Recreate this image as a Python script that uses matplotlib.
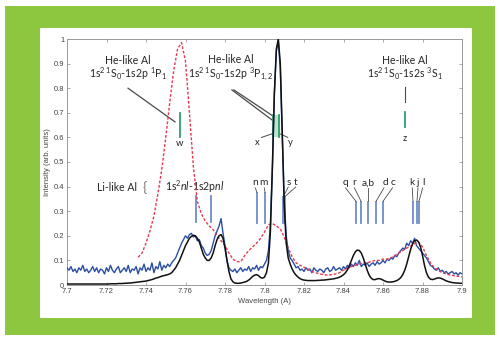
import numpy as np
import matplotlib
matplotlib.use("Agg")
import matplotlib.pyplot as plt
from matplotlib.patches import Rectangle

plt.rcParams['font.family'] = ['Lato', 'DejaVu Sans']
plt.rcParams['mathtext.fontset'] = 'custom'
plt.rcParams['mathtext.rm'] = 'Lato'
plt.rcParams['mathtext.it'] = 'Lato:italic'
plt.rcParams['mathtext.default'] = 'regular'

# ---------------- data ----------------
wl_start, wl_step = 7.700, 0.001
experiment = [
    0.07, 0.06, 0.075, 0.055, 0.065, 0.05, 0.07, 0.06, 0.08, 0.055,
    0.065, 0.05, 0.06, 0.075, 0.055, 0.07, 0.05, 0.065, 0.06, 0.045,
    0.07, 0.055, 0.08, 0.06, 0.05, 0.065, 0.075, 0.05, 0.06, 0.07,
    0.055, 0.08, 0.05, 0.065, 0.06, 0.075, 0.045, 0.07, 0.06, 0.085,
    0.055, 0.07, 0.06, 0.09, 0.05, 0.075, 0.065, 0.095, 0.06, 0.08,
    0.07, 0.085, 0.075, 0.09, 0.1, 0.11, 0.13, 0.15, 0.17, 0.185,
    0.2, 0.19, 0.205, 0.21, 0.195, 0.2, 0.18, 0.185, 0.16, 0.15,
    0.13, 0.12, 0.125, 0.14, 0.17, 0.2, 0.22, 0.24, 0.27, 0.21,
    0.16, 0.1, 0.07, 0.06, 0.055, 0.065, 0.05, 0.06, 0.07, 0.055,
    0.065, 0.06, 0.075, 0.055, 0.07, 0.065, 0.08, 0.06, 0.075, 0.07,
    0.085, 0.1, 0.14, 0.25, 0.48, 0.78, 0.95, 0.99, 0.88, 0.6,
    0.34, 0.2, 0.14, 0.11, 0.1, 0.085, 0.07, 0.075, 0.06, 0.065,
    0.055, 0.07, 0.06, 0.065, 0.05, 0.07, 0.06, 0.055, 0.065, 0.06,
    0.05, 0.065, 0.07, 0.055, 0.06, 0.075, 0.06, 0.065, 0.07, 0.06,
    0.075, 0.065, 0.08, 0.07, 0.085, 0.075, 0.09, 0.08, 0.1, 0.075,
    0.085, 0.08, 0.09, 0.075, 0.085, 0.09, 0.08, 0.095, 0.085, 0.09,
    0.1, 0.09, 0.105, 0.1, 0.11, 0.105, 0.12, 0.115, 0.13, 0.14,
    0.15, 0.145, 0.17, 0.16, 0.18, 0.17, 0.19, 0.16, 0.15, 0.14,
    0.13, 0.12, 0.11, 0.095, 0.08, 0.075, 0.065, 0.06, 0.07, 0.055,
    0.06, 0.05, 0.055, 0.045, 0.05, 0.055, 0.045, 0.05, 0.04, 0.05, 0.045,
]
simulation = [
    0.004, 0.004, 0.004, 0.004, 0.004, 0.004, 0.004, 0.004, 0.004, 0.004,
    0.004, 0.004, 0.004, 0.004, 0.004, 0.004, 0.004, 0.004, 0.004, 0.004,
    0.004, 0.004, 0.005, 0.005, 0.005, 0.005, 0.006, 0.006, 0.006, 0.007,
    0.007, 0.008, 0.008, 0.009, 0.01, 0.011, 0.012, 0.013, 0.014, 0.015,
    0.016, 0.018, 0.02, 0.022, 0.025, 0.028, 0.03, 0.033, 0.036, 0.038,
    0.04, 0.042, 0.045, 0.05, 0.06, 0.07, 0.085, 0.1, 0.12, 0.14,
    0.16, 0.175, 0.19, 0.198, 0.202, 0.2, 0.19, 0.175, 0.15, 0.125,
    0.11, 0.1, 0.1, 0.11, 0.13, 0.16, 0.185, 0.2, 0.205, 0.19,
    0.15, 0.1, 0.055, 0.025, 0.013, 0.008, 0.007, 0.007, 0.008, 0.01,
    0.012, 0.015, 0.02, 0.027, 0.035, 0.04, 0.042, 0.038, 0.03, 0.028,
    0.032, 0.05, 0.09, 0.22, 0.48, 0.78, 0.96, 1.0, 0.9, 0.62,
    0.32, 0.17, 0.11, 0.085, 0.065, 0.05, 0.04, 0.032, 0.026, 0.022,
    0.02, 0.019, 0.018, 0.018, 0.018, 0.018, 0.018, 0.019, 0.019, 0.02,
    0.02, 0.021, 0.022, 0.023, 0.024, 0.025, 0.027, 0.029, 0.032, 0.036,
    0.042, 0.05, 0.062, 0.08, 0.1, 0.12, 0.135, 0.142, 0.14, 0.13,
    0.11, 0.085, 0.06, 0.04, 0.028, 0.022, 0.022, 0.025, 0.026, 0.024,
    0.02, 0.016, 0.013, 0.012, 0.012, 0.013, 0.015, 0.018, 0.023, 0.03,
    0.042, 0.06, 0.085, 0.115, 0.145, 0.168, 0.18, 0.183, 0.175, 0.155,
    0.12, 0.08, 0.05, 0.032, 0.024, 0.022, 0.024, 0.027, 0.029, 0.028,
    0.025, 0.021, 0.017, 0.014, 0.012, 0.01, 0.009, 0.008, 0.008, 0.007, 0.007,
]
red_start, red_step = 7.736, 0.002
model2 = [
    0.113, 0.13, 0.17, 0.22, 0.28, 0.37, 0.47, 0.6, 0.74, 0.87, 0.96, 0.985,
    0.91, 0.7, 0.48, 0.34, 0.29, 0.26, 0.24, 0.225, 0.2, 0.18,
    0.16, 0.13, 0.105, 0.095, 0.095, 0.12, 0.14, 0.155, 0.17, 0.19,
    0.215, 0.245, 0.25, 0.24, 0.228, 0.195, 0.15, 0.115, 0.09, 0.08,
    0.072, 0.065, 0.055, 0.05, 0.045, 0.042, 0.04, 0.042, 0.045, 0.05,
    0.06, 0.068, 0.075, 0.08, 0.085, 0.09, 0.09, 0.095, 0.1, 0.1,
    0.105, 0.105, 0.11, 0.12, 0.13, 0.14, 0.15, 0.158, 0.168, 0.175,
    0.155, 0.12, 0.09, 0.07, 0.06, 0.05, 0.045, 0.04, 0.038, 0.035,
    0.033,
]

he_lines = [7.7572, 7.8043, 7.8073, 7.8711]          # w, x, y, z
li_main = [7.7653, 7.7729]
nm_lines = [7.7962, 7.8003]
st_lines = [7.8094, 7.8102]
qrabdc_lines = [7.8463, 7.8489, 7.8524, 7.8565, 7.8600]
kjl_lines = [7.8752, 7.8772, 7.8782]

xticks = [7.7, 7.72, 7.74, 7.76, 7.78, 7.8, 7.82, 7.84, 7.86, 7.88, 7.9]
yticks = [0, 0.1, 0.2, 0.3, 0.4, 0.5, 0.6, 0.7, 0.8, 0.9, 1]

# ---------------- figure ----------------
W, H = 499, 340
fig = plt.figure(figsize=(W / 100, H / 100), dpi=100)
fig.patch.set_facecolor('white')

def px_rect(x0, y0, x1, y1, color, z):
    fig.patches.append(Rectangle((x0 / W, 1 - y1 / H), (x1 - x0) / W, (y1 - y0) / H,
                                 transform=fig.transFigure, facecolor=color,
                                 edgecolor='none', zorder=z))

px_rect(5, 6, 495, 335, '#8dc63f', -3)
px_rect(40, 28, 472, 318, 'white', -2)

ax = fig.add_axes([67 / W, 1 - 285 / H, 395 / W, 246 / H])
ax.set_facecolor('white')

xe = wl_start + wl_step * np.arange(len(experiment))
xs = wl_start + wl_step * np.arange(len(simulation))
xr = red_start + red_step * np.arange(len(model2))

ax.plot(xe, experiment, color='#2a4fa5', lw=1.0, zorder=3)
ax.plot(xr, model2, color='#e8384f', lw=1.0, ls=(0, (2, 1.3)), zorder=4)
ax.plot(xs, simulation, color='#111111', lw=1.1, zorder=5)

ax.set_xlim(7.7, 7.9)
ax.set_ylim(0, 1)
ax.set_xticks(xticks)
ax.set_yticks(yticks)
ax.set_xticklabels(['%g' % t for t in xticks])
ax.set_yticklabels(['%g' % t for t in yticks])
ax.tick_params(direction='in', length=2.5, width=0.5, labelsize=5.5,
               colors='#888888', labelcolor='#444444', top=True, right=True, pad=2)
for s in ax.spines.values():
    s.set_color('#999999')
    s.set_linewidth(0.7)
ax.set_xlabel('Wavelength (A)', fontsize=5.5, color='#444444', labelpad=2,
              family=['Liberation Sans', 'DejaVu Sans'])
ax.set_ylabel('Intensity (arb. units)', fontsize=5.5, color='#444444', labelpad=2,
              family=['Liberation Sans', 'DejaVu Sans'])
for lab in ax.get_xticklabels() + ax.get_yticklabels():
    lab.set_family(['Liberation Sans', 'DejaVu Sans'])

tc = '#262626'
lc = '#4a4a4a'
gc = '#2e9e6e'
bc = '#6d8cc9'
fs = 7.6

# He-like w
ax.text(7.7309, 0.880, 'He-like Al\n1s$^{2\\ 1}$S$_0$-1s2p $^1$P$_1$', ha='center', va='center',
        fontsize=fs, color=tc, linespacing=1.0)
ax.plot([7.7309, 7.7547], [0.80, 0.663], color=lc, lw=0.9)
ax.plot([he_lines[0]] * 2, [0.60, 0.70], color=gc, lw=1.3)
ax.text(he_lines[0], 0.575, 'w', ha='center', va='center', fontsize=6.8, color=tc)

# He-like x, y
ax.text(7.7828, 0.880, 'He-like Al\n1s$^{2\\ 1}$S$_0$-1s2p $^3$P$_{1,2}$', ha='center', va='center',
        fontsize=fs, color=tc, linespacing=1.0)
ax.plot([7.7835, 7.8038], [0.793, 0.671], color=lc, lw=0.9)
ax.plot([7.7845, 7.8043], [0.793, 0.687], color=lc, lw=0.9)
ax.add_patch(Rectangle((he_lines[1] - 0.0004, 0.60), he_lines[2] - he_lines[1] + 0.0008, 0.09,
                       facecolor='#8fd3b0', edgecolor='none', alpha=0.6, zorder=2))
ax.plot([he_lines[1]] * 2, [0.60, 0.69], color=gc, lw=1.3, zorder=2.5)
ax.plot([he_lines[2]] * 2, [0.60, 0.69], color=gc, lw=1.3, zorder=2.5)
ax.text(7.7962, 0.578, 'x', ha='center', va='center', fontsize=6.8, color=tc)
ax.text(7.8129, 0.578, 'y', ha='center', va='center', fontsize=6.8, color=tc)
ax.plot([7.7985, 7.8040], [0.600, 0.615], color=lc, lw=0.7)
ax.plot([7.8077, 7.8118], [0.615, 0.600], color=lc, lw=0.7)

# He-like z
ax.text(he_lines[3], 0.880, 'He-like Al\n1s$^{2\\ 1}$S$_0$-1s2s $^3$S$_1$', ha='center', va='center',
        fontsize=fs, color=tc, linespacing=1.0)
ax.plot([he_lines[3]] * 2, [0.744, 0.805], color=lc, lw=0.8)
ax.plot([he_lines[3]] * 2, [0.642, 0.703], color=gc, lw=1.3)
ax.text(he_lines[3], 0.595, 'z', ha='center', va='center', fontsize=6.8, color=tc)

# Li-like
ax.text(7.7253, 0.398, 'Li-like Al', ha='center', va='center', fontsize=fs, color=tc)
ax.text(7.7395, 0.398, '{', ha='center', va='center', fontsize=10, color='#777777')
ax.text(7.7648, 0.398, '1s$^2$$\\mathit{nl}$-1s2p$\\mathit{nl}$', ha='center', va='center',
        fontsize=fs, color=tc)
for xl in li_main:
    ax.plot([xl, xl], [0.255, 0.36], color=bc, lw=1.3)

lab_y = 0.415
def labeled(lines, labels, label_x, top, bottom=0.254):
    for xl in lines:
        ax.plot([xl, xl], [bottom, top], color=bc, lw=1.3)
    for lx, txt in zip(label_x, labels):
        ax.text(lx, lab_y, txt, ha='center', va='center', fontsize=7.3, color=tc)

# n m
labeled(nm_lines, ['n', 'm'], [7.7952, 7.7997], 0.374)
ax.plot([7.7953, 7.7962], [0.395, 0.376], color=lc, lw=0.6)
ax.plot([7.7999, 7.8003], [0.395, 0.376], color=lc, lw=0.6)
# s t
labeled(st_lines, ['s', 't'], [7.8124, 7.8160], 0.358)
ax.plot([7.8120, 7.8096], [0.398, 0.36], color=lc, lw=0.6)
ax.plot([7.8158, 7.8104], [0.398, 0.36], color=lc, lw=0.6)
# q r a,b d c
labeled(qrabdc_lines, ['q', 'r', 'a,b', 'd', 'c'],
        [7.8408, 7.8453, 7.8524, 7.8610, 7.8651], 0.337)
for lx, bx in zip([7.8410, 7.8455, 7.8524, 7.8605, 7.8648], qrabdc_lines):
    ax.plot([lx, bx], [0.395, 0.34], color=lc, lw=0.6)
# k j l
labeled(kjl_lines, ['k', 'j', 'l'], [7.8747, 7.8777, 7.8803], 0.337)
for lx, bx in zip([7.8748, 7.8777, 7.8801], kjl_lines):
    ax.plot([lx, bx], [0.395, 0.34], color=lc, lw=0.6)

fig.savefig('out.png', dpi=100, facecolor=fig.get_facecolor())
